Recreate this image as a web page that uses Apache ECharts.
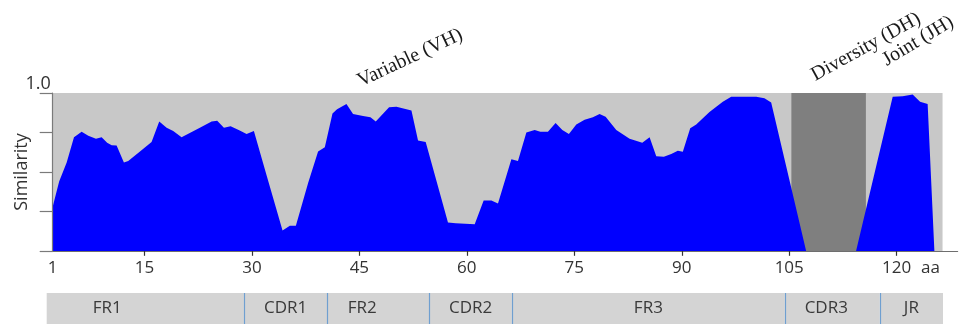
<!DOCTYPE html>
<html>
<head>
<meta charset="utf-8">
<script src="https://cdn.jsdelivr.net/npm/echarts@6/dist/echarts.min.js"></script>
<style>html,body{margin:0;padding:0;background:#fff;}#c{width:963px;height:327px;}</style>
</head>
<body>
<div id="c"></div>
<script>
// ---- data ----
const xMin = 2.2;          // axis start (labelled "1")
const xMax = 128.5;        // end of the axis line
const plotEnd = 126.4;     // end of the shaded plotting region
const startLabel = '1';
const unitLabel = 'aa';
const xTicks = [15, 30, 45, 60, 75, 90, 105, 120];
const positions = [2.2, 3.1, 4.15, 5.17, 6.24, 7.17, 8.24, 9.03, 9.8, 10.43, 11.12, 12.14, 12.74, 14.38, 16.0, 17.07, 18.1, 19.02, 20.19, 22.74, 24.38, 25.16, 26.1, 27.03, 28.23, 29.26, 30.28, 32.05, 34.28, 35.3, 36.14, 37.85, 39.24, 40.18, 41.25, 41.89, 43.2, 44.12, 45.52, 46.55, 47.29, 49.15, 50.18, 52.27, 53.19, 54.26, 57.37, 58.45, 61.1, 62.35, 63.43, 64.35, 66.22, 67.14, 68.31, 69.47, 70.26, 71.32, 72.39, 73.33, 74.25, 75.28, 76.44, 77.6, 78.53, 79.37, 80.86, 82.72, 84.49, 85.51, 86.44, 87.5, 88.53, 89.45, 90.15, 91.18, 92.02, 93.87, 95.73, 96.9, 100.39, 101.54, 102.48, 107.36, 114.33, 119.44, 120.83, 122.23, 123.26, 124.32, 124.56, 125.26];
const similarity = [0.28, 0.44, 0.56, 0.72, 0.755, 0.73, 0.71, 0.72, 0.685, 0.67, 0.667, 0.56, 0.57, 0.63, 0.69, 0.82, 0.78, 0.76, 0.72, 0.78, 0.82, 0.825, 0.78, 0.79, 0.765, 0.74, 0.76, 0.48, 0.13, 0.16, 0.16, 0.43, 0.63, 0.656, 0.87, 0.897, 0.93, 0.867, 0.855, 0.846, 0.82, 0.91, 0.913, 0.89, 0.70, 0.69, 0.18, 0.175, 0.17, 0.32, 0.32, 0.30, 0.58, 0.57, 0.75, 0.766, 0.755, 0.755, 0.81, 0.766, 0.74, 0.80, 0.83, 0.846, 0.867, 0.85, 0.766, 0.71, 0.685, 0.72, 0.60, 0.597, 0.614, 0.635, 0.628, 0.777, 0.80, 0.88, 0.945, 0.977, 0.977, 0.966, 0.94, 0, 0, 0.977, 0.98, 0.99, 0.945, 0.93, 0.924, 0];
const diversityStart = 105.3, diversityEnd = 115.7;
const regionNames = ['FR1', 'CDR1', 'FR2', 'CDR2', 'FR3', 'CDR3', 'JR'];
const regionBounds = [1.36, 28.88, 40.5, 54.72, 66.26, 104.33, 117.58, 126.4];
const geneTitles = ['Variable (VH)', 'Diversity (DH)', 'Joint (JH)'];

// ---- styling (not data) ----
const labelShift = { FR1: -38, FR2: -16, CDR3: -6 };
const sans = '"Open Sans", "Noto Sans", sans-serif';
const titlePos = [[410, 58, 25], [866, 47, 29], [918, 41, 31]];

const chart = echarts.init(document.getElementById('c'), null, { renderer: 'canvas' });

const bandAreas = regionNames.map((n, i) => [
  { xAxis: regionBounds[i], yAxis: 0, name: n,
    label: { offset: [labelShift[n] || 0, 0] } },
  { xAxis: regionBounds[i + 1], yAxis: 1 }
]);

chart.setOption({
  animation: false,
  grid: [
    { left: 52.7, right: 5.4, top: 93, bottom: 76, outerBoundsMode: 'none', containLabel: false },
    { left: 46.7, right: 20, top: 293, height: 31, outerBoundsMode: 'none', containLabel: false }
  ],
  xAxis: [
    {
      type: 'value', gridIndex: 0, min: xMin, max: xMax, z: 3,
      axisLine: { lineStyle: { color: '#6e6e6e', width: 1.2 } },
      axisTick: { show: true, length: 7, customValues: xTicks,
        lineStyle: { color: '#333', type: 'dashed', width: 1.2 } },
      axisLabel: { customValues: [xMin].concat(xTicks), margin: 9,
        fontSize: 17, color: '#333', fontFamily: sans,
        formatter: v => (v === xMin ? startLabel : String(v)) },
      splitLine: { show: false }
    },
    { type: 'value', gridIndex: 1, min: regionBounds[0], max: regionBounds[regionBounds.length - 1], show: false }
  ],
  yAxis: [
    {
      type: 'value', gridIndex: 0, min: 0, max: 1, interval: 0.25, z: 3,
      name: 'Similarity', nameLocation: 'middle', nameGap: 22, nameMoveOverlap: false,
      nameTextStyle: { fontSize: 18, color: '#333', fontFamily: sans },
      axisLine: { show: true, lineStyle: { color: '#7a7a7a', width: 1.2 } },
      axisTick: { show: true, length: 13, lineStyle: { color: '#7a7a7a', width: 1.2 } },
      axisLabel: { margin: 2, fontSize: 18, color: '#333', fontFamily: sans,
        verticalAlign: 'bottom',
        formatter: v => (v === 1 ? '1.0' : '') },
      splitLine: { show: false }
    },
    { type: 'value', gridIndex: 1, min: 0, max: 1, show: false }
  ],
  graphic: geneTitles.map((t, i) => ({
    type: 'text', x: titlePos[i][0], y: titlePos[i][1],
    rotation: titlePos[i][2] * Math.PI / 180,
    style: { text: t, font: '20px "Liberation Serif", "DejaVu Serif", serif',
      fill: '#1a1a1a', align: 'center', verticalAlign: 'middle' }
  })).concat([{
    type: 'text', x: 921, y: 268,
    style: { text: unitLabel, font: '17px ' + sans, fill: '#333', align: 'left', verticalAlign: 'middle' }
  }]),
  series: [
    {
      type: 'line', xAxisIndex: 0, yAxisIndex: 0, z: 1, silent: true,
      data: [[xMin, 0]], symbol: 'none', lineStyle: { opacity: 0 },
      markArea: {
        silent: true,
        data: [
          [{ xAxis: xMin, yAxis: 0, itemStyle: { color: '#c8c8c8' } }, { xAxis: plotEnd, yAxis: 1 }],
          [{ xAxis: diversityStart, yAxis: 0, itemStyle: { color: '#7f7f7f' } }, { xAxis: diversityEnd, yAxis: 1 }]
        ]
      }
    },
    {
      type: 'line', xAxisIndex: 0, yAxisIndex: 0, z: 2, silent: true,
      data: positions.map((x, i) => [x, similarity[i]]),
      symbol: 'none',
      lineStyle: { width: 0, color: '#0000ff' },
      areaStyle: { color: '#0000ff', opacity: 1 }
    },
    {
      type: 'line', xAxisIndex: 1, yAxisIndex: 1, silent: true,
      data: [[regionBounds[0], 0]], symbol: 'none', lineStyle: { opacity: 0 },
      markArea: {
        silent: true,
        itemStyle: { color: '#d4d4d4' },
        label: { show: true, position: 'inside', fontSize: 17, color: '#3a3a3a', fontFamily: sans },
        data: bandAreas
      },
      markLine: {
        silent: true, symbol: ['none', 'none'],
        label: { show: false },
        lineStyle: { color: '#6f9fd0', width: 1.2, type: 'solid' },
        data: regionBounds.slice(1, -1).map(x => ({ xAxis: x }))
      }
    }
  ]
});
</script>
</body>
</html>
